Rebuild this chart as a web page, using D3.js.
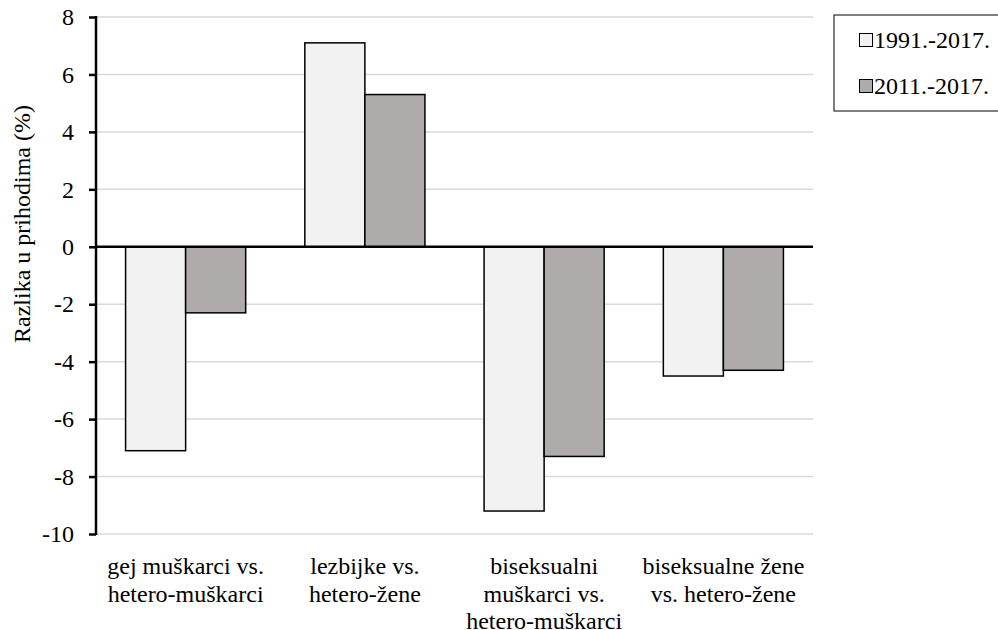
<!DOCTYPE html>
<html>
<head>
<meta charset="utf-8">
<script src="https://cdn.jsdelivr.net/npm/d3@7"></script>
<style>
  body { margin: 0; background: #fff; }
  svg text { font-family: "Liberation Serif", "DejaVu Serif", serif !important; fill: #000; }
</style>
</head>
<body>
<svg id="chart" width="998" height="630"></svg>
<script>
const categories = [
  ["gej muškarci vs.", "hetero-muškarci"],
  ["lezbijke vs.", "hetero-žene"],
  ["biseksualni", "muškarci vs.", "hetero-muškarci"],
  ["biseksualne žene", "vs. hetero-žene"]
];
const seriesNames = ["1991.-2017.", "2011.-2017."];
const series1991 = [-7.1, 7.1, -9.2, -4.5];
const series2011 = [-2.3, 5.3, -7.3, -4.3];
const yTicks = [-10, -8, -6, -4, -2, 0, 2, 4, 6, 8];
const colors = ["#f2f2f2", "#afabab"];
const yLabel = "Razlika u prihodima (%)";

const FONT = "'Liberation Serif', 'Times New Roman', serif";
const svg = d3.select("#chart");
const plotL = 96, plotR = 813, plotT = 17, plotB = 534;

const x0 = d3.scaleBand().domain(d3.range(categories.length)).range([plotL, plotR]).paddingInner(0.33).paddingOuter(0.165);
const x1 = d3.scaleBand().domain([0, 1]).range([0, x0.bandwidth()]);
const y = d3.scaleLinear().domain([-10, 8]).range([plotB, plotT]);

// gridlines
svg.append("g").selectAll("line").data(yTicks.filter(t => t !== 0)).join("line")
  .attr("x1", plotL).attr("x2", plotR)
  .attr("y1", d => y(d)).attr("y2", d => y(d))
  .attr("stroke", "#d9d9d9").attr("stroke-width", 1.5);

// bars
const allSeries = [series1991, series2011];
const g = svg.append("g");
categories.forEach((c, i) => {
  allSeries.forEach((s, j) => {
    const v = s[i];
    g.append("rect")
      .attr("x", x0(i) + x1(j))
      .attr("width", x1.bandwidth())
      .attr("y", y(Math.max(0, v)))
      .attr("height", Math.abs(y(v) - y(0)))
      .attr("fill", colors[j])
      .attr("stroke", "#000")
      .attr("stroke-width", 1.5);
  });
});

// zero line
svg.append("line").attr("x1", plotL).attr("x2", plotR).attr("y1", y(0)).attr("y2", y(0))
  .attr("stroke", "#000").attr("stroke-width", 2.5);

// y axis
const yAxis = svg.append("g").attr("transform", `translate(${plotL},0)`)
  .attr("font-family", FONT)
  .call(d3.axisLeft(y).tickValues(yTicks).tickSize(7).tickPadding(15).tickFormat(d => String(d)));
yAxis.select(".domain").attr("stroke", "#000").attr("stroke-width", 2.5).attr("d", `M0,${plotT - 1}V${plotB + 1}`);
yAxis.selectAll(".tick line").attr("stroke", "#000").attr("stroke-width", 2.5);
yAxis.selectAll(".tick text").style("font-size", "24px").style("font-family", FONT).attr("fill", "#000");

// y label
svg.append("text")
  .attr("transform", `translate(30,224) rotate(-90)`)
  .attr("text-anchor", "middle")
  .style("font-size", "24px").style("font-family", FONT)
  .text(yLabel);

// category labels
categories.forEach((lines, i) => {
  const cx = x0(i) + x0.bandwidth() / 2;
  const t = svg.append("text").attr("text-anchor", "middle").style("font-size", "24px").style("font-family", FONT);
  lines.forEach((ln, k) => {
    t.append("tspan").attr("x", cx).attr("y", 574 + k * 27.5).text(ln);
  });
});

// legend
svg.append("rect").attr("x", 834).attr("y", 15).attr("width", 170).attr("height", 96)
  .attr("fill", "#fff").attr("stroke", "#000").attr("stroke-width", 1);
seriesNames.forEach((n, j) => {
  const cy = 40 + j * 46;
  svg.append("rect").attr("x", 859.5).attr("y", cy - 6.5).attr("width", 13).attr("height", 13)
    .attr("fill", colors[j]).attr("stroke", "#000").attr("stroke-width", 1);
  svg.append("text").attr("x", 874).attr("y", cy + 8).style("font-size", "24px").style("font-family", FONT).text(n);
});
</script>
</body>
</html>
